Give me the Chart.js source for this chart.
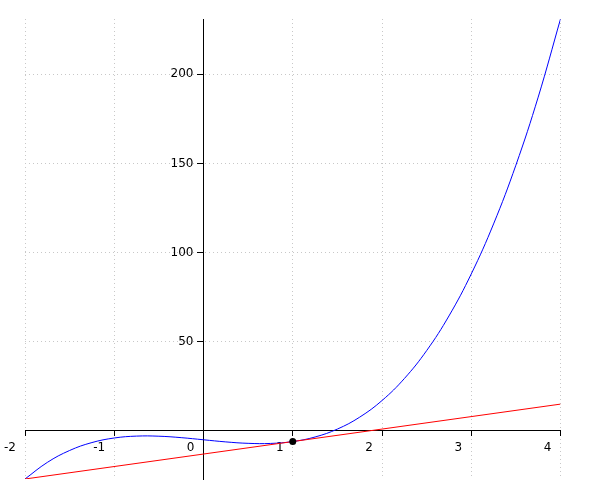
<!DOCTYPE html>
<html>
<head>
<meta charset="utf-8">
<script src="https://cdn.jsdelivr.net/npm/chart.js@4/dist/chart.umd.min.js"></script>
<style>
  html, body { margin: 0; padding: 0; background: #fff; }
  #wrap { width: 600px; height: 500px; }
</style>
</head>
<body>
<div id="wrap"><canvas id="c" width="600" height="500"></canvas></div>
<script>
// Curve samples
const curveX = [-2, -1.75, -1.5, -1.25, -1, -0.75, -0.5, -0.25, 0, 0.25, 0.5, 0.75, 1, 1.25, 1.5, 1.75, 2, 2.25, 2.5, 2.75, 3, 3.25, 3.5, 3.75, 4];
const curveY = [-27, -17.69, -11, -6.56, -4, -2.94, -3, -3.81, -5, -6.19, -7, -7.06, -6, -3.44, 1, 7.69, 17, 29.31, 45, 64.44, 88, 116.06, 149, 187.19, 231];
// Tangent line end points
const tangentX = [-2, 4];
const tangentY = [-27, 15];
// Marked point
const pointX = [1];
const pointY = [-6];
// Axis ticks
const xTicks = [-2, -1, 0, 1, 2, 3, 4];
const yTicks = [50, 100, 150, 200];

const toXY = (xs, ys) => xs.map((x, i) => ({ x: x, y: ys[i] }));

const tickFont = { family: 'DejaVu Sans', size: 12 };

// Move the y tick labels to the left of the crossing axis
const shiftYLabels = {
  id: 'shiftYLabels',
  beforeDraw(chart) {
    const items = chart.scales.y.getLabelItems();
    items.forEach((it) => {
      if (!it._shifted) {
        it.options.translation[0] -= 10;
        it._shifted = true;
      }
    });
  }
};

new Chart(document.getElementById('c'), {
  type: 'scatter',
  plugins: [shiftYLabels],
  data: {
    datasets: [
      {
        data: toXY(pointX, pointY),
        showLine: false,
        pointRadius: 3.5,
        pointBackgroundColor: '#000',
        pointBorderColor: '#000',
        pointBorderWidth: 0,
        order: 0
      },
      {
        data: toXY(tangentX, tangentY),
        showLine: true,
        borderColor: '#ff0000',
        borderWidth: 1,
        pointRadius: 0,
        order: 1
      },
      {
        data: toXY(curveX, curveY),
        showLine: true,
        borderColor: '#0000ff',
        borderWidth: 1,
        pointRadius: 0,
        tension: 0.4,
        order: 2
      }
    ]
  },
  options: {
    responsive: false,
    animation: false,
    events: [],
    layout: { padding: { left: 25, right: 39.5, top: 19, bottom: 21 } },
    plugins: { legend: { display: false }, tooltip: { enabled: false } },
    scales: {
      x: {
        type: 'linear',
        position: { y: 0 },
        min: -2,
        max: 4,
        afterFit: (s) => { s.height = 0; },
        afterBuildTicks: (s) => { s.ticks = xTicks.map(v => ({ value: v })); },
        ticks: {
          font: tickFont,
          color: '#000',
          align: 'end',
          labelOffset: -9,
          padding: 5,
          maxRotation: 0,
          autoSkip: false,
          callback: (v) => String(v)
        },
        grid: {
          color: '#c8c8c8',
          lineWidth: 1,
          drawTicks: true,
          tickLength: 5,
          tickColor: '#000',
          tickWidth: 1,
          tickBorderDash: [],
          tickBorderDashOffset: 0
        },
        border: { display: true, color: '#000', width: 1, dash: [1, 3] }
      },
      y: {
        type: 'linear',
        position: { x: 0 },
        min: -27,
        max: 231,
        afterFit: (s) => { s.width = 0; },
        afterBuildTicks: (s) => { s.ticks = yTicks.map(v => ({ value: v })); },
        ticks: {
          font: tickFont,
          color: '#000',
          padding: 5,
          callback: (v) => String(v)
        },
        grid: {
          color: '#c8c8c8',
          lineWidth: 1,
          drawTicks: true,
          tickLength: 6,
          tickColor: '#000',
          tickWidth: 1,
          tickBorderDash: [],
          tickBorderDashOffset: 0
        },
        border: { display: true, color: '#000', width: 1, dash: [1, 3] }
      }
    }
  }
});
</script>
</body>
</html>
